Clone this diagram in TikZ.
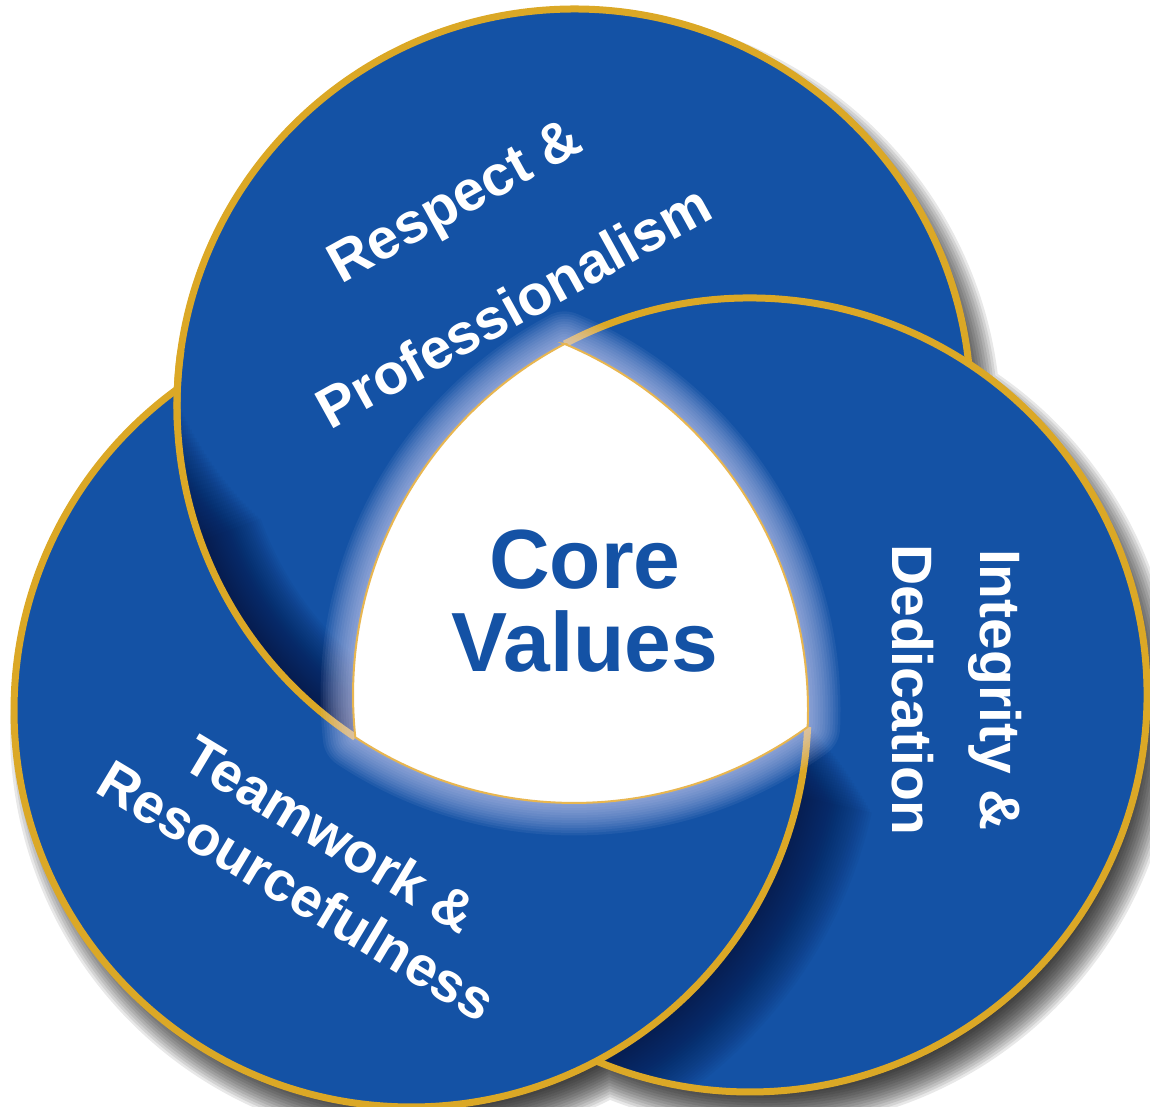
\documentclass[tikz,border=0pt]{standalone}
\usepackage{fontspec}
\setmainfont{Liberation Sans}
\definecolor{cvblue}{RGB}{20,82,165}
\definecolor{cvgold}{RGB}{219,168,38}
\definecolor{cvnavy}{RGB}{6,16,58}
\definecolor{cvglow}{RGB}{222,218,250}
\definecolor{cvthin}{RGB}{232,182,80}
\begin{document}
\begin{tikzpicture}[x=1pt,y=-1pt,
  rim/.style={draw=cvgold, line width=7pt},
  label/.style={text=white, align=center, inner sep=0pt},
  core/.style={text=cvblue, align=center, inner sep=0pt}]
\useasboundingbox (0,0) rectangle (1150,1107);
\clip (0,0) rectangle (1150,1107);
\def\rr{397}
\coordinate (T) at (574,406);
\coordinate (R) at (750,695);
\coordinate (L) at (411,710);
\coordinate (P1) at (564.6,343.9);
\coordinate (P2) at (355.25,737.3);
\coordinate (P3) at (807.6,727.0);
% drop shadow (soft, towards bottom right)
\foreach \i in {1,...,15} {
  \fill[black, opacity=0.09] ([shift={(13,20)}]T) circle ({\rr-22+2.6*\i}) ([shift={(13,20)}]R) circle ({\rr-22+2.6*\i}) ([shift={(13,20)}]L) circle ({\rr-22+2.6*\i});
}
% blue discs
\fill[cvblue] (T) circle (\rr) (R) circle (\rr) (L) circle (\rr);
% shade inside T along its edge over L
\begin{scope}
  \clip (T) circle (\rr);
  \clip (L) circle (\rr);
  \foreach \k in {1,...,32}
    \draw[cvnavy, opacity=0.039, line width=4*\k pt]
      ([shift={({181-0.65*\k}:\rr)}]T) arc[start angle={181-0.65*\k}, end angle=118, radius=\rr];
\end{scope}
% shadow of L cast on R
\begin{scope}[even odd rule]
  \clip (R) circle (\rr);
  \path[clip] (-100,-100) -- (1250,-100) -- (1250,1250) -- (-100,1250) -- cycle (L) ++(\rr,0) arc[start angle=0, end angle=-360, radius=\rr];
  \path[clip] (-100,-100) -- (1250,-100) -- (1250,1250) -- (-100,1250) -- cycle (T) ++(\rr,0) arc[start angle=0, end angle=-360, radius=\rr];
  \foreach \k in {1,...,30}
    \draw[cvnavy, opacity=0.039, line width=5*\k pt]
      ([shift={({2+0.35*\k}:\rr)}]L) arc[start angle={2+0.35*\k}, end angle=125, radius=\rr];
\end{scope}
% visible gold rims (cyclic overlap)
\draw[rim] ([shift={(-6.12:\rr)}]T) arc[start angle=-6.12, end angle=-236.57, radius=\rr];
\draw[rim] ([shift={(-117.84:\rr)}]R) arc[start angle=-117.84, end angle=112.76, radius=\rr];
\draw[rim] ([shift={(2.45:\rr)}]L) arc[start angle=2.45, end angle=233.95, radius=\rr];
\draw[rim] ([shift={(-172:\rr)}]T) arc[start angle=-172, end angle=-183, radius=\rr];
% glow round the centre
\foreach \w in {5,10,...,65}
  \draw[cvglow, opacity=0.065, line width=\w pt, line join=round]
    (P1) arc[start angle=-67.24, end angle=2.45, radius=\rr]
         arc[start angle=53.95, end angle=123.43, radius=\rr]
         arc[start angle=173.88, end angle=242.16, radius=\rr] -- cycle;
% white centre
\fill[white, draw=cvthin, line width=2pt]
    (P1) arc[start angle=-67.24, end angle=2.45, radius=\rr]
         arc[start angle=53.95, end angle=123.43, radius=\rr]
         arc[start angle=173.88, end angle=242.16, radius=\rr] -- cycle;
% texts
\node[label, rotate=29, font=\bfseries\fontsize{57}{122}\selectfont] (rp) at (484,253) {Respect \&\\Professionalism};
\node[label, rotate=-90, font=\bfseries\fontsize{57}{88}\selectfont] (id) at (957,690) {Integrity \&\\Dedication};
\node[label, rotate=-31, font=\bfseries\fontsize{56}{66}\selectfont] (tr) at (314,862) {Teamwork \&\\Resourcefulness};
\node[core, font=\bfseries\fontsize{84}{83}\selectfont] (cv) at (585,601) {Core\\Values};
\end{tikzpicture}
\end{document}
